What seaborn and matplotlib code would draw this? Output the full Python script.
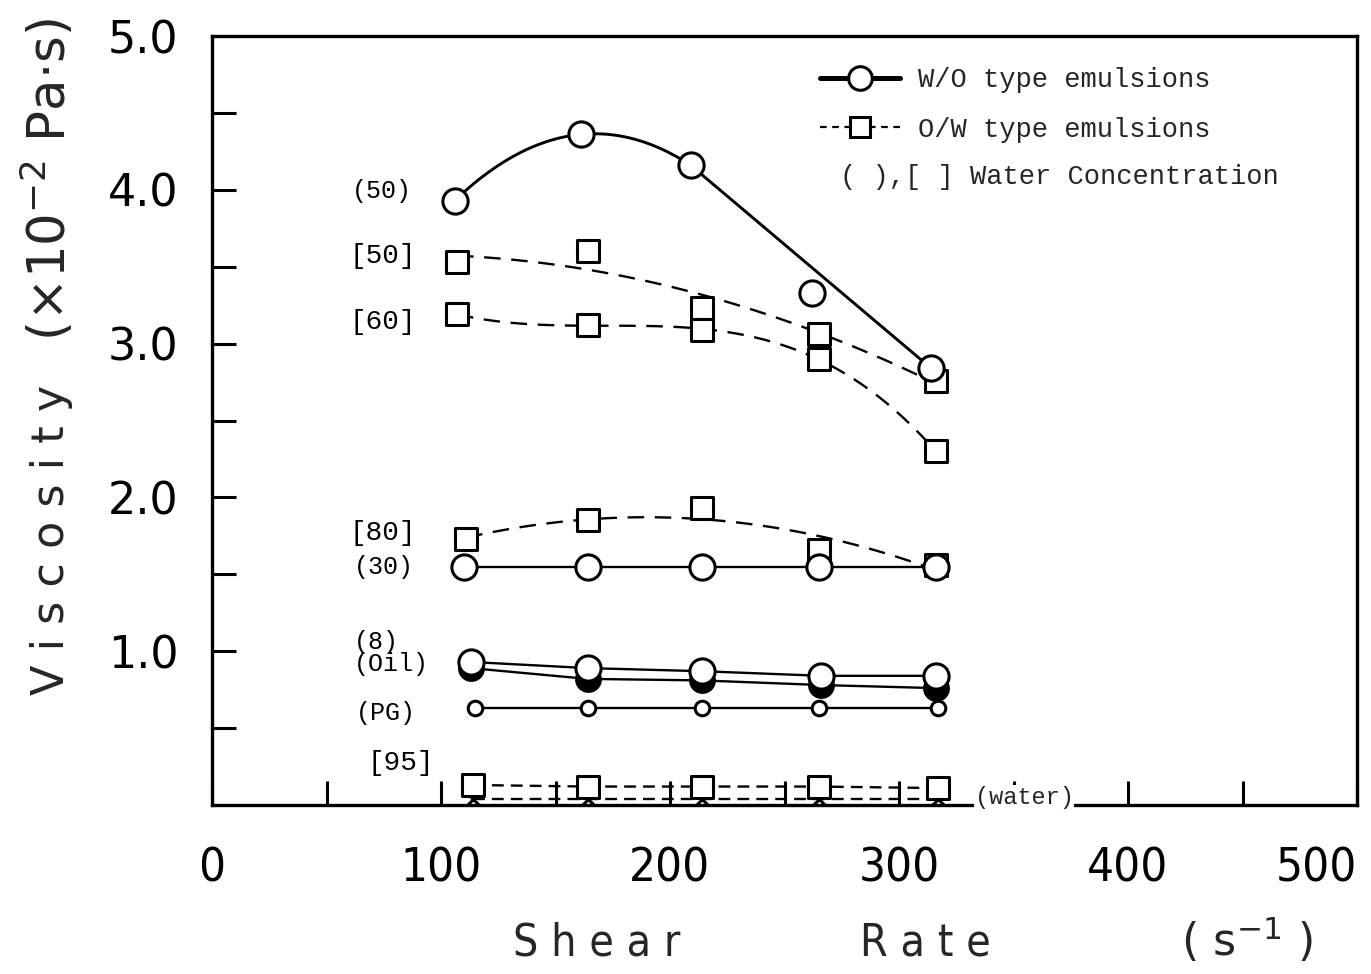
import numpy as np
import matplotlib
matplotlib.use("Agg")
import matplotlib.pyplot as plt
import seaborn as sns
from matplotlib.lines import Line2D

# ---------------- data ----------------
rate_wo50 = [106, 161, 209, 262, 314]
visc_wo50 = [3.93, 4.36, 4.16, 3.33, 2.84]

rate_ow = [107, 164, 214, 265, 316]
visc_ow50 = [3.53, 3.60, 3.23, 3.06, 2.76]
visc_ow60 = [3.19, 3.12, 3.09, 2.90, 2.30]

rate_ow80 = [111, 164, 214, 265, 316]
visc_ow80 = [1.73, 1.85, 1.93, 1.66, 1.56]

rate_wo30 = [110, 164, 214, 265, 316]
visc_wo30 = [1.55, 1.55, 1.55, 1.55, 1.55]

rate_wo8 = [113, 164, 214, 266, 316]
visc_wo8 = [0.93, 0.89, 0.87, 0.84, 0.84]
visc_oil = [0.89, 0.82, 0.81, 0.78, 0.76]

rate_pg = [115, 164, 214, 265, 317]
visc_pg = [0.63, 0.63, 0.63, 0.63, 0.63]

rate_ow95 = [114, 164, 214, 265, 317]
visc_ow95 = [0.13, 0.12, 0.12, 0.12, 0.11]
visc_water = [0.04, 0.04, 0.04, 0.04, 0.04]

x_tick_values = [0, 100, 200, 300, 400, 500]
x_tick_labels = ["0", "100", "200", "300", "400", "500"]
y_tick_values = [1.0, 2.0, 3.0, 4.0, 5.0]
y_tick_labels = ["1.0", "2.0", "3.0", "4.0", "5.0"]

legend_labels = ["W/O type emulsions", "O/W type emulsions"]
legend_note = "( ),[ ] Water Concentration"

# ---------------- style ----------------
sns.set_theme(style="white")
plt.rcParams["font.family"] = ["DejaVu Sans"]
plt.rcParams["axes.linewidth"] = 2.4
MONO = "Liberation Mono"

fig = plt.figure(figsize=(13.71, 9.74), dpi=100)
W, H = 1371, 974
ax = fig.add_axes([212 / W, 1 - 805 / H, (1357 - 212) / W, (805 - 36) / H])

LW = 1.7
DASH = (7, 4.5)

# (50) W/O : smooth through first three points, straight afterwards
coef = np.polyfit(rate_wo50[:3], visc_wo50[:3], 2)
xs = np.linspace(rate_wo50[0], rate_wo50[2], 80)
cx = list(xs) + [rate_wo50[4]]
cy = list(np.polyval(coef, xs)) + [visc_wo50[4]]
sns.lineplot(x=cx, y=cy, sort=False, color="black", lw=LW + 0.4, ax=ax)

# O/W smooth dashed trends
for xv, yv, od in [(rate_ow, visc_ow50, 2), (rate_ow, visc_ow60, 3), (rate_ow80, visc_ow80, 2)]:
    sns.regplot(x=xv, y=yv, order=od, ci=None, scatter=False, truncate=True,
                color="black", line_kws=dict(lw=LW, dashes=DASH), ax=ax)

# straight solid series
for xv, yv in [(rate_wo30, visc_wo30), (rate_wo8, visc_wo8), (rate_wo8, visc_oil),
               (rate_pg, visc_pg)]:
    sns.lineplot(x=xv, y=yv, color="black", lw=LW, ax=ax)

# dashed near-zero series
sns.lineplot(x=rate_ow95, y=visc_ow95, color="black", lw=LW, ax=ax,
             linestyle=(0, (5, 3)))
sns.lineplot(x=rate_ow95, y=visc_water, color="black", lw=LW, ax=ax,
             linestyle=(0, (5, 3)))

# markers
sq = dict(marker="s", s=250, facecolor="white", edgecolor="black", linewidth=2.2, zorder=6)
ci = dict(marker="o", s=330, facecolor="white", edgecolor="black", linewidth=2.2, zorder=6)
sns.scatterplot(x=rate_ow95, y=visc_water, marker="x", s=90, color="black",
                linewidth=2.2, zorder=5, ax=ax)
sns.scatterplot(x=rate_ow95, y=visc_ow95, ax=ax, **sq)
sns.scatterplot(x=rate_ow, y=visc_ow50, ax=ax, **sq)
sns.scatterplot(x=rate_ow, y=visc_ow60, ax=ax, **sq)
sns.scatterplot(x=rate_ow80, y=visc_ow80, ax=ax, **sq)
sns.scatterplot(x=rate_wo50, y=visc_wo50, ax=ax, **ci)
sns.scatterplot(x=rate_wo30, y=visc_wo30, ax=ax, **ci)
sns.scatterplot(x=rate_wo8, y=visc_oil, marker="o", s=300, color="black",
                edgecolor="black", linewidth=2, zorder=6, ax=ax)
sns.scatterplot(x=rate_wo8, y=visc_wo8, ax=ax, **ci)
sns.scatterplot(x=rate_pg, y=visc_pg, marker="o", s=110, facecolor="white",
                edgecolor="black", linewidth=2.2, zorder=6, ax=ax)

# ---------------- axes ----------------
ax.set_xlim(0, 500)
ax.set_ylim(0, 5.0)
ax.set_xticks(x_tick_values)
ax.set_xticklabels(x_tick_labels, fontsize=34, fontstretch="condensed")
ax.get_xticklabels()[-1].set_horizontalalignment("right")
ax.set_xticks(np.arange(50, 500, 100), minor=True)
ax.set_yticks(y_tick_values)
ax.set_yticklabels(y_tick_labels, fontsize=32)
ax.set_yticks(np.arange(0.5, 5.0, 1.0), minor=True)
ax.tick_params(which="both", direction="in", length=17, width=2.2,
               top=False, right=False, bottom=True, left=True, colors="black")
ax.tick_params(axis="x", which="major", pad=30)
ax.tick_params(axis="y", which="major", pad=24)
for s in ax.spines.values():
    s.set_visible(True)
    s.set_color("black")
ax.set_xlabel("")
ax.set_ylabel("")
ax.grid(False)

# ---------------- series annotations ----------------
ann = dict(fontsize=18, family=MONO, ha="left", va="center", color="black")
brk = dict(fontsize=20, family=MONO, ha="left", va="center", color="black")
ax.text(61, 3.99, "(50)", **ann)
ax.text(60, 3.57, "[50]", **brk)
ax.text(60, 3.14, "[60]", **brk)
ax.text(60, 1.77, "[80]", **brk)
ax.text(62, 1.55, "(30)", **ann)
ax.text(62, 1.06, "(8)", **ann)
ax.text(62, 0.92, "(Oil)", **ann)
ax.text(63, 0.60, "(PG)", **ann)
ax.text(68, 0.27, "[95]", **brk)
ax.text(333, 0.05, "(water)", fontsize=17, family=MONO, ha="left", va="center",
        zorder=7, bbox=dict(facecolor="white", edgecolor="none", pad=0.5))

# ---------------- legend ----------------
handles = [
    Line2D([0], [0], color="black", lw=3.6, marker="o", ms=17, mfc="white",
           mec="black", mew=2.2),
    Line2D([0], [0], color="black", lw=1.6, ls=(0, (3, 2.5)), marker="s", ms=15,
           mfc="white", mec="black", mew=2.2),
]
leg = ax.legend(handles, legend_labels, loc="upper left",
                bbox_to_anchor=((820 - 212) / 1145, 1 - (67 - 36) / 769),
                frameon=False, prop=dict(family=MONO, size=19.5), handlelength=2.95,
                handletextpad=0.66, labelspacing=0.88, borderpad=0, borderaxespad=0,
                numpoints=1)
ax.text((840 - 212) / 1145, 1 - (177 - 36) / 769, legend_note, transform=ax.transAxes,
        fontsize=19.5, family=MONO, ha="left", va="center")

# ---------------- axis titles ----------------
fig.text(52 / W, 1 - 540 / H, "V i s c o s i t y", rotation=90, fontsize=32,
         ha="center", va="center")
fig.text(48 / W, 1 - 180 / H, "(×10$^{-2}$ Pa·s)", rotation=90, fontsize=37,
         ha="center", va="center")
fig.text(597 / W, 1 - 943 / H, "S h e a r", fontsize=32, ha="center", va="center",
         fontstretch="condensed")
fig.text(925 / W, 1 - 943 / H, "R a t e", fontsize=32, ha="center", va="center",
         fontstretch="condensed")
fig.text(1247 / W, 1 - 940 / H, "( s$^{-1}$ )", fontsize=32, ha="center", va="center")

fig.savefig("out.png", dpi=100, facecolor="white")
